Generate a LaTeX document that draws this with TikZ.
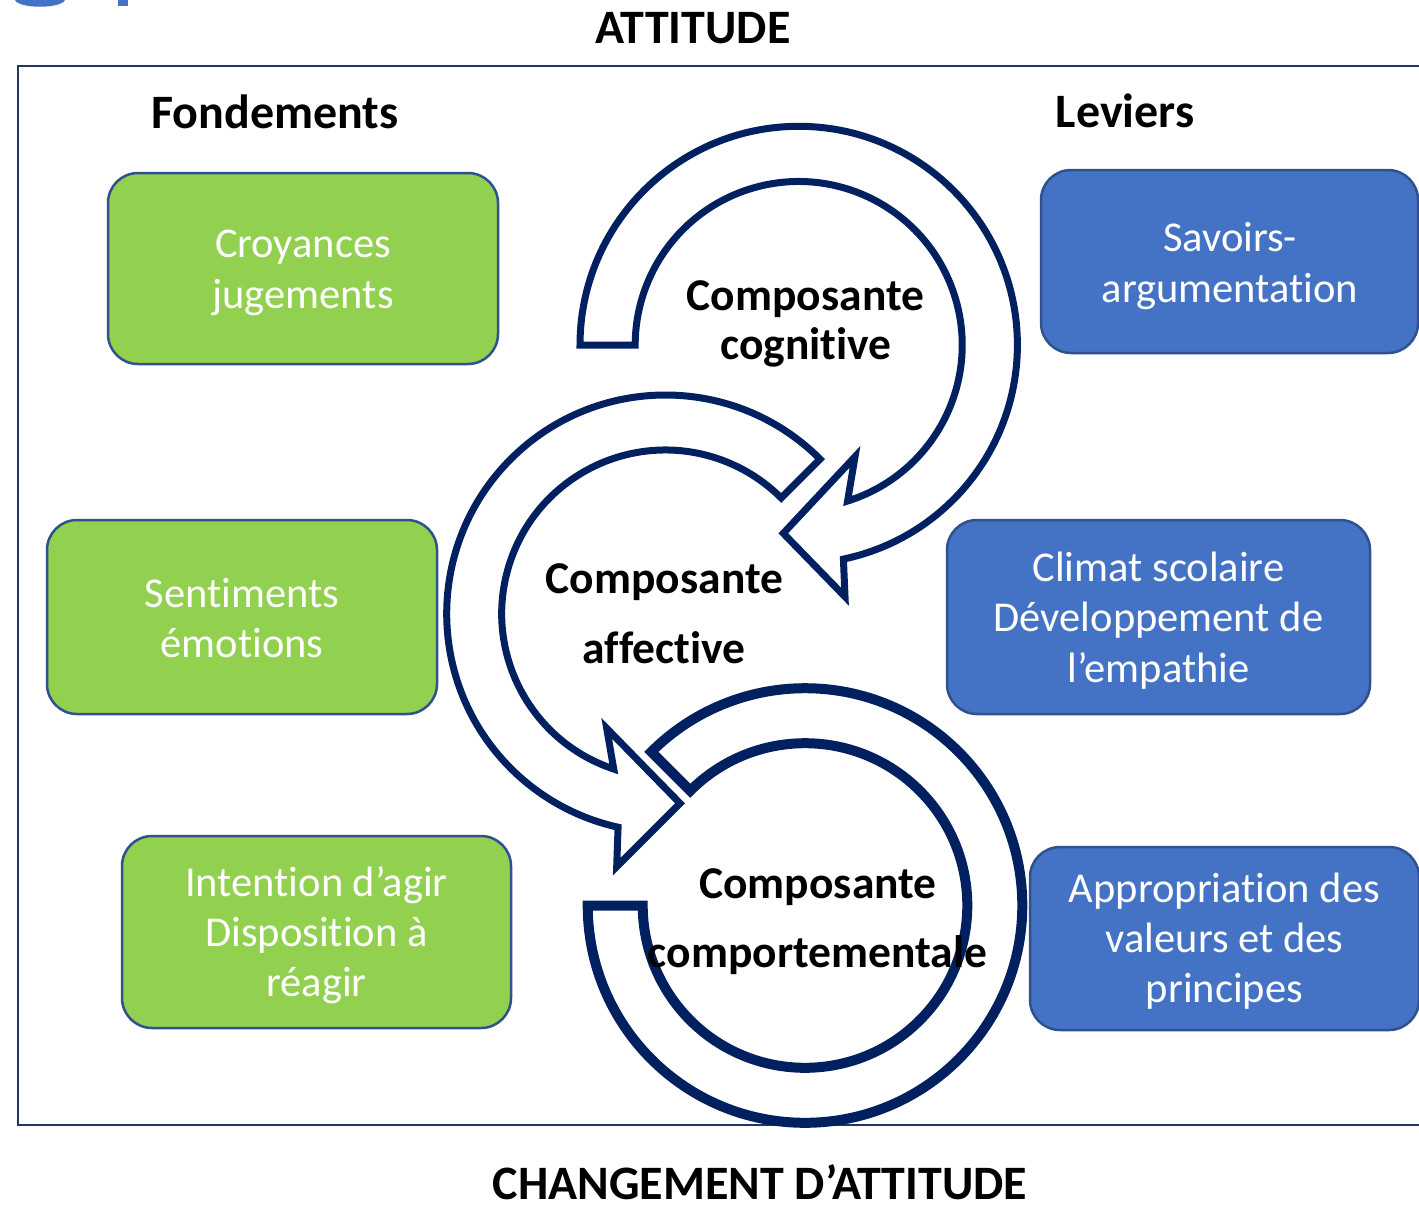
\documentclass[tikz,border=0pt]{standalone}
\usepackage{fontspec}
\setmainfont{Carlito}[Ligatures={NoCommon}]
\usetikzlibrary{calc}
\definecolor{navy}{HTML}{002060}
\definecolor{framec}{HTML}{1F3864}
\definecolor{greenf}{HTML}{92D050}
\definecolor{bluef}{HTML}{4472C4}
\definecolor{boxline}{HTML}{2F528F}
\begin{document}
\begin{tikzpicture}[x=1pt,y=1pt,
  gbox/.style={draw=boxline, line width=2.5pt, rounded corners=30pt, fill=greenf, inner sep=0pt, outer sep=0pt},
  bbox/.style={draw=boxline, line width=2.5pt, rounded corners=30pt, fill=bluef, inner sep=0pt, outer sep=0pt},
  btxt/.style={text=white, font=\fontsize{42.5}{51}\selectfont, inner sep=0pt, anchor=base},
  hdr/.style={font=\bfseries\fontsize{48}{56}\selectfont, inner sep=0pt, anchor=base},
  comp/.style={font=\bfseries\fontsize{45.5}{55}\selectfont, inner sep=0pt, anchor=base},
  arrowband/.style={draw=navy, fill=white, line width=7pt, line join=miter, miter limit=10},
  arrowthick/.style={draw=navy, fill=white, line width=10pt, line join=miter, miter limit=10}]
\useasboundingbox (0,0) rectangle (1419,-1205);
\fill[white] (0,0) rectangle (1419,-1205);

% partial blue fragment at top-left
\fill[bluef] (15,0) .. controls (19,-9) and (61,-9) .. (65,0) -- cycle;
\fill[bluef] (118,0) rectangle (128,-6);

% frame
\draw[framec, line width=2pt] (1430,-66) -- (18,-66) -- (18,-1125) -- (1430,-1125);

% titles
\node[hdr] (att) at (693,-43) {ATTITUDE};
\node[hdr] (chg) at (760,-1199) {CHANGEMENT D’ATTITUDE};
\node[hdr] (fond) at (275,-128) {Fondements};
\node[hdr] (lev) at (1125,-127) {Leviers};

% green boxes
\node[gbox, minimum width=390pt, minimum height=191pt] (b1) at (303,-268.5) {};
\node[gbox, minimum width=390pt, minimum height=194pt] (b2) at (242,-617) {};
\node[gbox, minimum width=389pt, minimum height=192pt] (b3) at (316.5,-932) {};
\node[btxt] (t1a) at (303,-257) {Croyances};
\node[btxt] (t1b) at (303,-308) {jugements};
\node[btxt] (t2a) at (242,-607) {Sentiments};
\node[btxt] (t2b) at (242,-657) {émotions};
\node[btxt] (t3a) at (316.5,-896) {Intention d’agir};
\node[btxt] (t3b) at (316.5,-946) {Disposition à};
\node[btxt] (t3c) at (316.5,-996) {réagir};

% blue boxes
\node[bbox, minimum width=377pt, minimum height=183pt] (b4) at (1229.5,-261.5) {};
\node[bbox, minimum width=423pt, minimum height=194pt] (b5) at (1158.5,-617) {};
\node[bbox, minimum width=389pt, minimum height=183pt] (b6) at (1224.5,-938.5) {};
\node[btxt] (t4a) at (1230,-251) {Savoirs-};
\node[btxt] (t4b) at (1230,-302) {argumentation};
\node[btxt] (t5a) at (1158.5,-581) {Climat scolaire};
\node[btxt] (t5b) at (1158.5,-631) {Développement de};
\node[btxt] (t5c) at (1158.5,-682) {l’empathie};
\node[btxt] (t6a) at (1224.5,-902) {Appropriation des};
\node[btxt] (t6b) at (1224.5,-952) {valeurs et des};
\node[btxt] (t6c) at (1224.5,-1002) {principes};

% circular arrows
\coordinate (c1) at (798.7,-345);
\coordinate (c2) at (665.4,-613.7);
\coordinate (c3) at (805,-905.5);

\draw[arrowthick] ($(c3)+(180:217.3)$) arc[start angle=180, end angle=495, radius=217.3pt]
  -- ($(c3)+(135:162.3)$) arc[start angle=135, end angle=-180, radius=162.3pt] -- cycle;

\draw[arrowband] ($(c2)+(45:218.7)$) arc[start angle=45, end angle=257.5, radius=218.7pt]
  -- (616.7,-866.7) -- (680,-803.3) -- (606.7,-728.3)
  -- ($(c2)+(251.6:163.7)$) arc[start angle=251.6, end angle=45, radius=163.7pt] -- cycle;

\draw[arrowband] ($(c1)+(180:218.7)$) arc[start angle=180, end angle=-78.2, radius=218.7pt]
  -- (845,-596.7) -- (783.3,-533.3) -- (855,-456.7)
  -- ($(c1)+(-72.6:163.5)$) arc[start angle=-72.6, end angle=180, radius=163.5pt] -- cycle;

% labels
\node[comp] (k1a) at (805.5,-310) {Composante};
\node[comp] (k1b) at (806,-359) {cognitive};
\node[comp] (k2a) at (664.5,-593) {Composante};
\node[comp] (k2b) at (664,-663) {affective};
\node[comp] (k3a) at (818,-898) {Composante};
\node[comp] (k3b) at (817.5,-967) {comportementale};
\end{tikzpicture}
\end{document}
